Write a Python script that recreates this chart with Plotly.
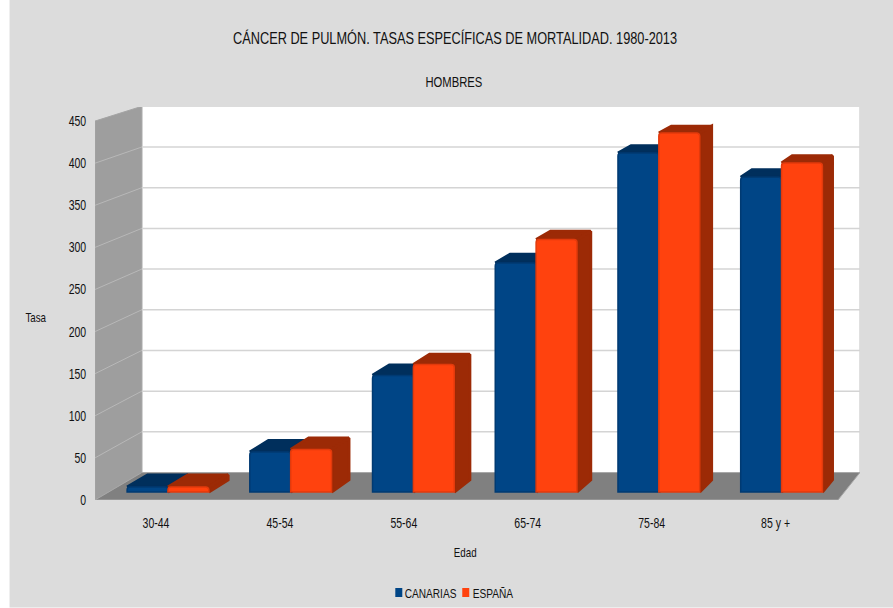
import numpy as np
import plotly.graph_objects as go

categories = ["30-44", "45-54", "55-64", "65-74", "75-84", "85 y +"]
canarias = [6, 48, 140, 275, 407, 378]
espana = [6, 51, 153, 303, 431, 395]
y_ticks = [0, 50, 100, 150, 200, 250, 300, 350, 400, 450]
series_names = ["CANARIAS", "ESPAÑA"]

W, H = 893, 608
L, R, T, B = 94.5, 860, 107, 500
X0PX, XPX = 167.5, 122.8      # pixels of category 0, pixels per category
Y0PX, YPX = 492, 0.833        # pixels of value 0 at the bars' front plane, pixels per unit
AXPX = 0.842                  # pixels per unit on the front edge of the side wall
BAR_W = 0.333
VX, VY = 10.8, 975            # vanishing point in data units
BOX_F, BAR_F = 0.0335, 0.0150 # depth of the box and of the bars
FRONT_RIGHT = (838 - X0PX) / XPX

xr = [(L - X0PX) / XPX, (R - X0PX) / XPX]
yr = [(Y0PX - B) / YPX, (Y0PX - T) / YPX]
FRONT_LEFT = xr[0]


def front_v(t):
    return (Y0PX - (B - AXPX * t)) / YPX


def back(x, v, f):
    return x + f * (VX - x), v + f * (VY - v)


def poly(points, color, line=None, width=1):
    xs = [p[0] for p in points] + [points[0][0]]
    ys = [p[1] for p in points] + [points[0][1]]
    return go.Scatter(x=xs, y=ys, mode="lines", fill="toself", fillcolor=color,
                      line=dict(color=line or color, width=width), showlegend=False,
                      hoverinfo="skip", cliponaxis=False)


def seg(a, b, color, width):
    return go.Scatter(x=[a[0], b[0]], y=[a[1], b[1]], mode="lines",
                      line=dict(color=color, width=width), showlegend=False,
                      hoverinfo="skip", cliponaxis=False)


fig = go.Figure()
bot, top = front_v(0), front_v(450)
# walls
fig.add_trace(poly([back(FRONT_LEFT, bot, BOX_F), back(FRONT_RIGHT, bot, BOX_F),
                    back(FRONT_RIGHT, top, BOX_F), back(FRONT_LEFT, top, BOX_F)],
                   "#ffffff", "#c4c4c4", 1))
fig.add_trace(poly([(FRONT_LEFT, bot), back(FRONT_LEFT, bot, BOX_F),
                    back(FRONT_LEFT, top, BOX_F), (FRONT_LEFT, top)], "#9e9e9e", "#a4a4a4", 1))
fig.add_trace(poly([(FRONT_LEFT, bot), (FRONT_RIGHT, bot), back(FRONT_RIGHT, bot, BOX_F),
                    back(FRONT_LEFT, bot, BOX_F)], "#808080", "#a8a8a8", 1))
# grid
for t in y_ticks[1:-1]:
    v = front_v(t)
    a = (FRONT_LEFT, v)
    b = back(FRONT_LEFT, v, BOX_F)
    c = back(FRONT_RIGHT, v, BOX_F)
    fig.add_trace(seg(a, b, "#b8b8b8", 1))
    fig.add_trace(seg(b, c, "#d4d4d4", 1.5))

series = [(series_names[0], canarias, -BAR_W / 2, "#004586", "#003a72", "#002f5c", 2, 3),
          (series_names[1], espana, BAR_W / 2, "#ff420e", "#e23a0c", "#9c2a06", 4, 5)]
for name, vals, off, col, edge, dark, ax_side, ax_front in series:
    xs = np.arange(len(categories)) + off
    for x, v in zip(xs, vals):
        x0, x1 = x - BAR_W / 2, x + BAR_W / 2
        tr_top = poly([(x0, v), (x1, v), back(x1, v, BAR_F), back(x0, v, BAR_F)], dark, width=3)
        tr_side = poly([(x1, 0), (x1, v), back(x1, v, BAR_F), back(x1, 0, BAR_F)], dark, width=3)
        for tr in (tr_top, tr_side):
            tr.update(xaxis=f"x{ax_side}", yaxis=f"y{ax_side}")
            fig.add_trace(tr)
    fig.add_trace(go.Bar(x=xs, y=vals, width=BAR_W, name=name, xaxis=f"x{ax_front}", yaxis=f"y{ax_front}",
                         marker=dict(color=col, line=dict(color=edge, width=1.5)),
                         hoverinfo="y", showlegend=False))


def px(x):
    return (x - L) / (R - L)


def py(y):
    return (B - y) / (B - T)


FONT = "Liberation Sans, Arial, sans-serif"
notes = [("CÁNCER DE PULMÓN. TASAS ESPECÍFICAS DE MORTALIDAD. 1980-2013", 455, 38, 17),
         ("HOMBRES", 454, 82, 15), ("Tasa", 35, 317, 13), ("Edad", 465, 552, 13),
         (series_names[0], 430, 593, 13.5), (series_names[1], 493, 593, 13.5)]
axes = {}
for n in (2, 3, 4, 5):
    axes[f"xaxis{n}"] = dict(range=xr, overlaying="x", visible=False)
    axes[f"yaxis{n}"] = dict(range=yr, overlaying="y", visible=False)


def rect(x0, x1, y0, y1, color, layer="below"):
    return dict(type="rect", xref="paper", yref="paper", x0=px(x0), x1=px(x1), y0=py(y1), y1=py(y0),
                fillcolor=color, line_width=0, layer=layer)


fig.update_layout(
    width=W, height=H, margin=dict(l=L, r=W - R, t=T, b=H - B, autoexpand=False),
    paper_bgcolor="#ffffff", plot_bgcolor="rgba(0,0,0,0)", barmode="overlay",
    barcornerradius=3, showlegend=False, font=dict(family=FONT, color="#111111", size=14),
    xaxis=dict(range=xr, tickmode="array",
               tickvals=[(155.5 + 124 * i - X0PX) / XPX for i in range(len(categories))],
               ticktext=categories, ticks="outside", ticklen=10, tickcolor="rgba(0,0,0,0)",
               showgrid=False, zeroline=False, showline=False, tickfont_size=14),
    yaxis=dict(range=yr, tickmode="array", tickvals=[front_v(t) for t in y_ticks],
               ticktext=[str(t) for t in y_ticks], ticks="outside", ticklen=5,
               tickcolor="rgba(0,0,0,0)", showgrid=False, zeroline=False, showline=False,
               tickfont_size=14),
    shapes=[rect(9, W, 0, H - 0.5, "#dcdcdc"),
            rect(395, 402, 588, 597, "#004586"), rect(462, 469, 588, 597, "#ff420e")],
    annotations=[dict(text=t, x=px(x), y=py(y), xref="paper", yref="paper", showarrow=False,
                      xanchor="center", yanchor="middle", font_size=s) for t, x, y, s in notes],
    **axes,
)
squeeze = """
document.body.style.margin = '0';
document.querySelectorAll('svg text').forEach(function (t) {
  var n = t.getComputedTextLength();
  if (n > 0) { t.setAttribute('textLength', n * 0.75); t.setAttribute('lengthAdjust', 'spacingAndGlyphs'); }
});
"""
fig.write_html("out.html", post_script=squeeze, config={"displayModeBar": False})
